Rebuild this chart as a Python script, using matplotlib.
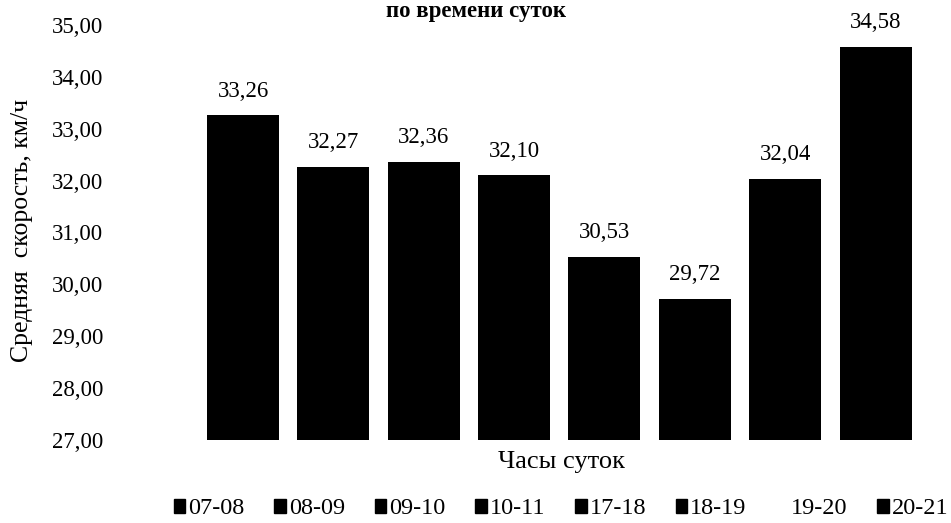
import matplotlib
matplotlib.use("Agg")
import matplotlib.pyplot as plt
from matplotlib.patches import Patch

categories = ["07-08", "08-09", "09-10", "10-11", "17-18", "18-19", "19-20", "20-21"]
values = [33.26, 32.27, 32.36, 32.10, 30.53, 29.72, 32.04, 34.58]
yticks = [27, 28, 29, 30, 31, 32, 33, 34, 35]

plt.rcParams['font.family'] = ['Liberation Serif', 'DejaVu Serif']

W, H = 951, 523
fig = plt.figure(figsize=(W / 100, H / 100), dpi=100)
ax = fig.add_axes([110 / W, (H - 440) / H, (935 - 110) / W, (440 - 25) / H])

for i, (c, v) in enumerate(zip(categories, values)):
    ax.bar(i, v - 27, bottom=27, width=0.797, color='black', label=c)
    ax.text(i, v + 0.26, f"{v:.2f}".replace('.', ','), ha='center', va='bottom', fontsize=16.5)

ax.set_xlim((110 - 243) / 90.36, (935 - 243) / 90.36)
ax.set_ylim(27, 35)
ax.set_yticks(yticks)
ax.set_yticklabels([f"{t:.2f}".replace('.', ',') for t in yticks], fontsize=16.5)
ax.set_xticks([])
ax.tick_params(axis='y', length=0, pad=5)
for s in ax.spines.values():
    s.set_visible(False)

fig.text(22 / W, 1 - 230 / H, "Средняя  скорость, км/ч", rotation=90, ha='center', va='center', fontsize=18.5)
fig.text(561 / W, 1 - 462 / H, "Часы суток", ha='center', va='center', fontsize=19)
fig.text(476 / W, 1 - 11 / H, "по времени суток", ha='center', va='center', fontsize=16.5, fontweight='bold')

handles = []
for c in categories:
    if c == "19-20":
        handles.append(Patch(facecolor='none', edgecolor='none', label=c))
    else:
        handles.append(Patch(facecolor='black', edgecolor='black', label=c))
fig.legend(handles=handles, loc='center', bbox_to_anchor=(561 / W, 1 - 509 / H), ncol=8,
           frameon=False, fontsize=17.5, handlelength=0.48, handleheight=0.48,
           handletextpad=0.12, columnspacing=1.22)

fig.savefig("out.png", dpi=100)
